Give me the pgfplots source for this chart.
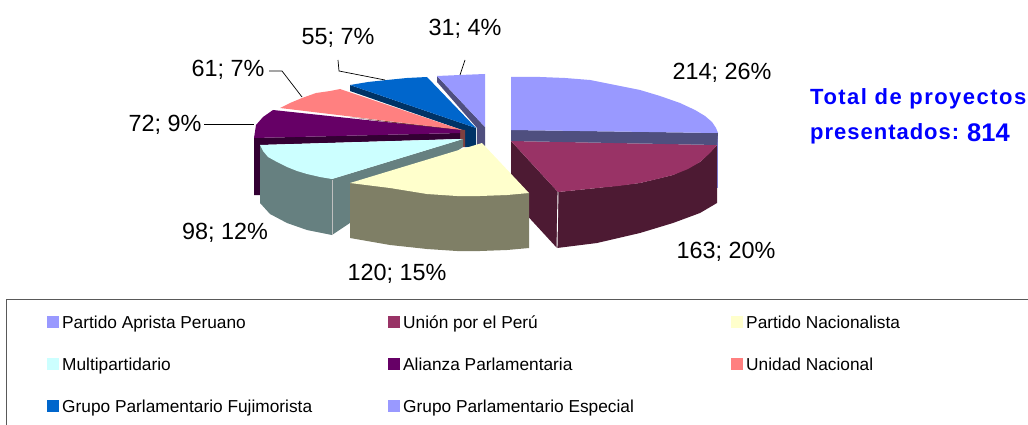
\documentclass[border=0pt]{standalone}
\usepackage{fontspec}
\setmainfont{Liberation Sans}
\usepackage{pgfplots}
\pgfplotsset{compat=1.18}
\definecolor{cA}{HTML}{9999FF}\definecolor{cAs}{HTML}{4F4F7F}
\definecolor{cB}{HTML}{993366}\definecolor{cBs}{HTML}{4D1A33}
\definecolor{cC}{HTML}{FFFFCC}\definecolor{cCs}{HTML}{7F7F66}
\definecolor{cD}{HTML}{CCFFFF}\definecolor{cDs}{HTML}{668080}
\definecolor{cE}{HTML}{660066}\definecolor{cEs}{HTML}{330033}
\definecolor{cF}{HTML}{FF8080}\definecolor{cFs}{HTML}{7F4040}
\definecolor{cG}{HTML}{0066CC}\definecolor{cGs}{HTML}{003366}
\definecolor{totblue}{HTML}{0000FF}
\tikzset{
 lab/.style={font=\fontsize{23.4bp}{26bp}\selectfont,inner sep=0pt,text=black,anchor=base},
 leg/.style={font=\fontsize{17.3bp}{20bp}\selectfont,inner sep=0pt,anchor=base west,text=black},
}
\pgfplotsset{
 poly/.style={draw=none,fill=#1,forget plot},
 sq/.style={only marks,mark=square*,mark size=5.5bp,mark options={fill=#1,draw=#1},forget plot},
}
\begin{document}
\begin{tikzpicture}
\path[use as bounding box] (0,0) rectangle (1028bp,425bp);
\begin{axis}[at={(0,0)},anchor=south west,scale only axis,width=1028bp,height=425bp,hide axis,
 xmin=0,xmax=1028,ymin=0,ymax=425,y dir=reverse]
% slice 8 (Grupo Especial)
\addplot[poly=cAs] coordinates {(437,76)(485,127)(485,146)(477,146)(477,128)(437,82)} --cycle;
\addplot[poly=cA] coordinates {(437,76)(460,75)(485,74)(485,127)} --cycle;
% slice 7 (Fujimorista)
\addplot[poly=cGs] coordinates {(350,85)(476,128)(476,147)(465,147)(465,131)(350,91)} --cycle;
\addplot[poly=cG] coordinates {(350,85)(368,82)(387,80)(407,78)(427,77)(476,128)} --cycle;
% slice 6 (Unidad Nacional)
\addplot[poly=cFs] coordinates {(350,117)(465,130)(465,147)(460,147)(460,132)} --cycle;
\addplot[poly=cF] coordinates {(280,108)(290,103)(302,98)(316,93)(330,91)(340,89)(462,130)} --cycle;
% slice 5 (Alianza)
\addplot[poly=cEs] coordinates {(254,138)(460,133)(460,139)(260,145)(260,195)(254,195)} --cycle;
\addplot[poly=cE] coordinates {(273,110)(263,117)(256,125)(254,138)(460,133)(460,130)} --cycle;
% slice 4 (Multipartidario)
\addplot[poly=cDs] coordinates {(463,139)(463,147)(332,235)(332,179)} --cycle;
\addplot[poly=cDs] coordinates {(260,145)(332,179)(332,235)(307,230)(287,223)(270,214)(260,203)} --cycle;
\addplot[poly=cD] coordinates {(463,139)(260,145)(263,151)(268,157)(277,162)(287,167)(297,171)(307,174)(320,177)(332,179)} --cycle;
\addplot[draw=white!75!black,line width=.5bp,forget plot] coordinates {(332,180)(332,235)};
% slice 2 (Union por el Peru)
\addplot[poly=cBs] coordinates {(511,141)(558,192)(597,188)(640,183)(673,175)(700,162)(717,145)(717,203)(700,213)(673,223)(640,233)(597,243)(557,248)(511,198)} --cycle;
\addplot[poly=cB] coordinates {(511,141)(717,145)(710,153)(700,162)(688,169)(673,175)(657,179)(640,183)(618,186)(597,188)(578,190)(558,192)} --cycle;
\addplot[draw=white,line width=.9bp,forget plot] coordinates {(558,192)(557,248)};
% slice 1 (Aprista)
\addplot[draw=cA!80!black,line width=1bp,forget plot] coordinates {(717.5,133)(717.5,188)};
\addplot[poly=cAs] coordinates {(511,130)(718,133)(717,145)(511,141)} --cycle;
\addplot[poly=cA] coordinates {(511,77)(540,77)(565,78)(590,80)(615,85)(640,90)(660,96)(680,103)(695,110)(705,116)(712,122)(716,128)(718,133)(511,130)} --cycle;
% slice 3 (Nacionalista)
\addplot[poly=cCs] coordinates {(350,183)(529,193)(529,248)(507,250)(480,251)(457,251)(427,249)(390,245)(350,238)} --cycle;
\addplot[poly=cC] coordinates {(482,143)(529,193)(507,195)(480,196)(457,196)(427,194)(390,188)(350,183)} --cycle;
% leader lines
\addplot[black,line width=.7bp,forget plot] coordinates {(269,71)(282,71)(302,97)};
\addplot[black,line width=.7bp,forget plot] coordinates {(204,124)(254,124)};
\addplot[black,line width=.7bp,forget plot] coordinates {(338,60)(339,71)(385,80)};
\addplot[black,line width=.7bp,forget plot] coordinates {(465,60)(460,75)};
% legend box
\addplot[draw=black!65,line width=1bp,forget plot] coordinates {(1028,299.5)(6.5,299.5)(6.5,425)};
% legend swatches
\addplot[sq=cA] coordinates {(53,322)};
\addplot[sq=cB] coordinates {(394,322)};
\addplot[sq=cC] coordinates {(737,322)};
\addplot[sq=cD] coordinates {(53,364)};
\addplot[sq=cE] coordinates {(394,364)};
\addplot[sq=cF] coordinates {(737,364)};
\addplot[sq=cG] coordinates {(53,406)};
\addplot[sq=cA] coordinates {(394,406)};
% data labels
\node[lab] at (axis cs:722,80) {214; 26\%};
\node[lab] at (axis cs:726,258) {163; 20\%};
\node[lab] at (axis cs:397,280) {120; 15\%};
\node[lab] at (axis cs:225,239) {98; 12\%};
\node[lab] at (axis cs:165,131) {72; 9\%};
\node[lab] at (axis cs:228,77) {61; 7\%};
\node[lab] at (axis cs:338,45) {55; 7\%};
\node[lab] at (axis cs:465,36) {31; 4\%};
% legend text
\node[leg] at (axis cs:62,328) {Partido Aprista Peruano};
\node[leg] at (axis cs:403,328) {Unión por el Perú};
\node[leg] at (axis cs:746,328) {Partido Nacionalista};
\node[leg] at (axis cs:62,370) {Multipartidario};
\node[leg] at (axis cs:403,370) {Alianza Parlamentaria};
\node[leg] at (axis cs:746,370) {Unidad Nacional};
\node[leg] at (axis cs:62,412) {Grupo Parlamentario Fujimorista};
\node[leg] at (axis cs:403,412) {Grupo Parlamentario Especial};
% total
\node[inner sep=0pt,anchor=base west,text=totblue,font=\addfontfeature{LetterSpace=6.7}\fontsize{22bp}{24bp}\bfseries\selectfont] at (axis cs:810,104) {Total de proyectos};
\node[inner sep=0pt,anchor=base west,text=totblue,font=\addfontfeature{LetterSpace=4.5}\fontsize{22bp}{24bp}\bfseries\selectfont] at (axis cs:810,139) {presentados:};
\node[inner sep=0pt,anchor=base west,text=totblue,font=\fontsize{25.5bp}{28bp}\bfseries\selectfont] at (axis cs:967,141) {814};
\end{axis}
\end{tikzpicture}
\end{document}
